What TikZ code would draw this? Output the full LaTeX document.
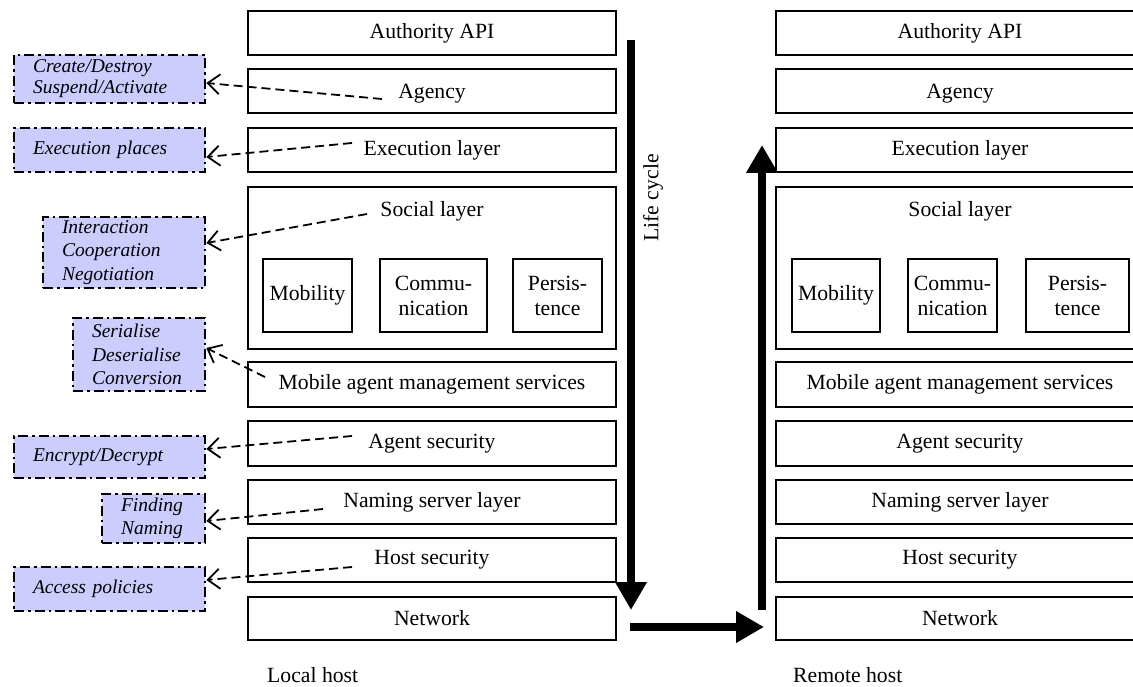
\documentclass[tikz,border=0pt]{standalone}
\usepackage{fontspec}
\setmainfont{Liberation Serif}
\usetikzlibrary{arrows.meta,calc}
\definecolor{lav}{HTML}{CCCCFF}
\begin{document}
\begin{tikzpicture}[x=1pt,y=-1pt,
  layer/.style={draw,line width=1.4pt,minimum width=368pt,minimum height=44pt,inner sep=0pt,
    font=\fontsize{21.7}{25}\selectfont},
  inner/.style={draw,line width=1.4pt,minimum height=73pt,inner sep=0pt,align=center,
    font=\fontsize{21.7}{25}\selectfont},
  txt/.style={inner sep=0pt,font=\fontsize{21.7}{25}\selectfont},
  note/.style={draw,fill=lav,line width=2.6pt,dash pattern=on 10pt off 4pt on 2.5pt off 4pt,
    inner xsep=19pt,inner ysep=0pt,align=left,font=\fontsize{19.5}{23.5}\selectfont\itshape},
  conn/.style={line width=1.8pt,dash pattern=on 9pt off 5pt,-{Straight Barb[length=12pt,width=20pt]}},
  big/.style={line width=8pt,-{Triangle[length=28pt,width=30pt]}}]
\useasboundingbox (0,0) rectangle (1133,687);

% ---------- Local host stack ----------
\node[layer] (la) at (432,33) {Authority API};
\node[layer] (lag) at (432,91) {};
\node[txt] (lagt) at (432,94) {Agency};
\node[layer] (lex) at (432,150) {Execution layer};
\node[layer,minimum height=162pt] (lso) at (432,268) {};
\node[txt] (lsot) at (432,211) {Social layer};
\node[inner,minimum width=89pt] (lmo) at (307.5,295.5) {Mobility};
\node[inner,minimum width=107pt] (lco) at (433.5,295.5) {Commu-\\nication};
\node[inner,minimum width=89pt] (lpe) at (557.5,295.5) {Persis-\\tence};
\node[layer,minimum height=45pt] (lmm) at (432,384.5) {Mobile agent management services};
\node[layer,minimum height=45pt] (las) at (432,443.5) {Agent security};
\node[layer] (lns) at (432,502) {Naming server layer};
\node[layer] (lhs) at (432,560) {Host security};
\node[layer,minimum height=43pt] (lnw) at (432,618.5) {Network};
\node[txt,anchor=west] (lh) at (267,675) {Local host};

% ---------- Remote host stack ----------
\node[layer] (ra) at (960,33) {Authority API};
\node[layer] (rag) at (960,91) {};
\node[txt] (ragt) at (960,94) {Agency};
\node[layer] (rex) at (960,150) {Execution layer};
\node[layer,minimum height=162pt] (rso) at (960,268) {};
\node[txt] (rsot) at (960,211) {Social layer};
\node[inner,minimum width=88pt] (rmo) at (836,295.5) {Mobility};
\node[inner,minimum width=89pt] (rco) at (952.5,295.5) {Commu-\\nication};
\node[inner,minimum width=103pt] (rpe) at (1077.5,295.5) {Persis-\\tence};
\node[layer,minimum height=45pt] (rmm) at (960,384.5) {Mobile agent management services};
\node[layer,minimum height=45pt] (ras) at (960,443.5) {Agent security};
\node[layer] (rns) at (960,502) {Naming server layer};
\node[layer] (rhs) at (960,560) {Host security};
\node[layer,minimum height=43pt] (rnw) at (960,618.5) {Network};
\node[txt,anchor=west] (rh) at (793,675) {Remote host};

% ---------- annotation boxes ----------
\node[note,minimum width=191pt,minimum height=48pt,text width=153pt] (n1) at (109.5,79) {Create/Destroy\\[-2.5pt]Suspend/Activate};
\node[note,minimum width=191pt,minimum height=44pt,text width=153pt] (n2) at (109.5,150) {Execution places};
\node[note,minimum width=162pt,minimum height=71pt,text width=124pt] (n3) at (124,252.5) {\raisebox{-3pt}{}Interaction\\Cooperation\\Negotiation};
\node[note,minimum width=132pt,minimum height=73pt,text width=94pt] (n4) at (139,354.5) {Serialise\\Deserialise\\Conversion};
\node[note,minimum width=191pt,minimum height=42pt,text width=153pt] (n5) at (109.5,457) {Encrypt/Decrypt};
\node[note,minimum width=103pt,minimum height=49pt,text width=65pt] (n6) at (153.5,518.5) {Finding\\Naming};
\node[note,minimum width=191pt,minimum height=44pt,text width=153pt] (n7) at (109.5,589) {Access policies};

% ---------- dashed connectors ----------
\coordinate (e1) at (382,99);
\coordinate (e2) at (352,143);
\coordinate (e3) at (367,214);
\coordinate (e4) at (265,377);
\coordinate (e5) at (352,436);
\coordinate (e6) at (323,509);
\coordinate (e7) at (352,567);
\draw[conn] (e1) -- ($(n1.east)+(0,4)$);
\draw[conn] (e2) -- ($(n2.east)+(0,7)$);
\draw[conn] (e3) -- ($(n3.east)+(0,-9.5)$);
\draw[conn] (e4) -- ($(n4.east)+(0,-6.5)$);
\draw[conn] (e5) -- ($(n5.east)+(0,-8)$);
\draw[conn] (e6) -- ($(n6.east)+(0,2.5)$);
\draw[conn] (e7) -- ($(n7.east)+(0,-9)$);

% ---------- life cycle arrows ----------
\coordinate (lc1) at (631,40);
\coordinate (lc2) at (631,610);
\coordinate (h1) at (630,627);
\coordinate (h2) at (764,627);
\coordinate (u1) at (762,610);
\coordinate (u2) at (762,145);
\draw[big] (lc1) -- (lc2);
\draw[big] (h1) -- (h2);
\draw[big] (u1) -- (u2);
\node[txt,rotate=90] (lc) at (653,198) {Life cycle};
\end{tikzpicture}
\end{document}
